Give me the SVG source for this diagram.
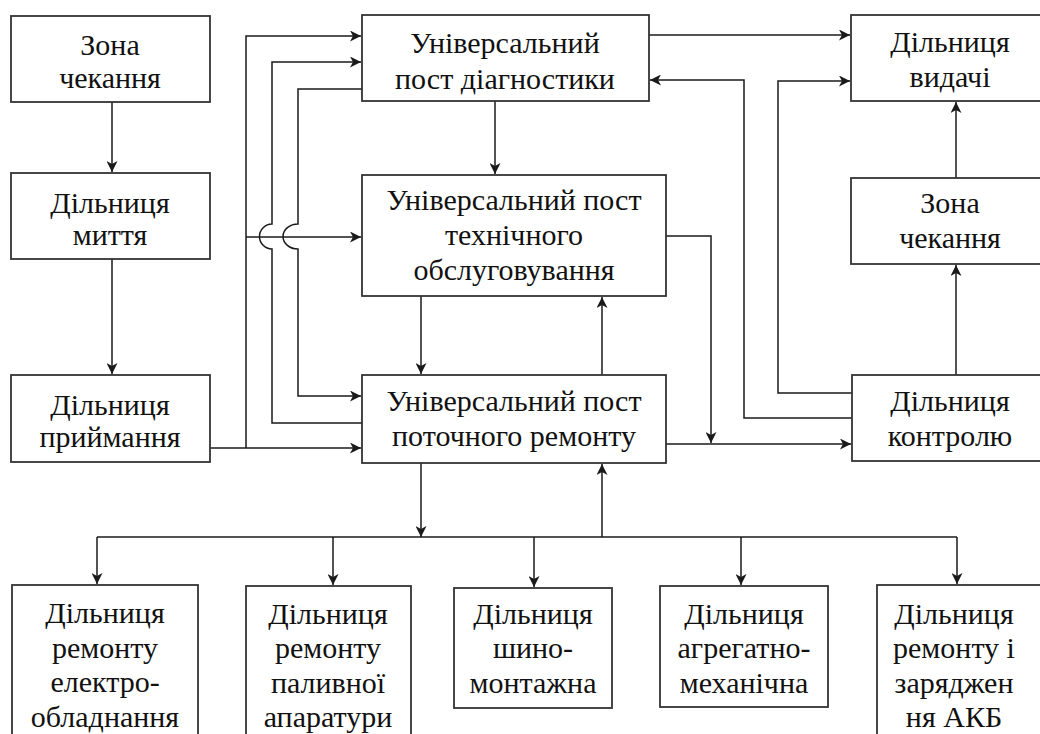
<svg xmlns="http://www.w3.org/2000/svg" width="1040" height="734" viewBox="0 0 1040 734">
<style>
.box{fill:#fff;stroke:#333;stroke-width:1.8}
.t{font-family:'Liberation Serif','Times New Roman',serif;font-size:30px;fill:#111;text-anchor:middle}
.c{fill:none;stroke:#1a1a1a;stroke-width:1.5}
.a{marker-end:url(#arr)}
</style>
<defs>
<marker id="arr" markerUnits="userSpaceOnUse" markerWidth="12" markerHeight="11" refX="11" refY="5.5" orient="auto">
<path d="M0,0 L11,5.5 L0,11 L3,5.5 z" fill="#1a1a1a"/>
</marker>
</defs>
<rect width="1040" height="734" fill="#fff"/>
<g id="connectors">
<path class="c a" d="M112,102 V172"/>
<path class="c a" d="M112,259 V374"/>
<path class="c a" d="M210,448 H361"/>
<path class="c a" d="M246,448 V36 H361"/>
<path class="c a" d="M246,237 H361"/>
<path class="c a" d="M362,423 H272 V249 A12.5,12.5 0 0 1 272,224 V62 H361"/>
<path class="c a" d="M362,89 H298 V224 A15,12.5 0 0 0 298,249 V396 H361"/>
<path class="c a" d="M495,101 V174"/>
<path class="c a" d="M421,296 V374"/>
<path class="c a" d="M602,375 V297"/>
<path class="c a" d="M649,35 H850"/>
<path class="c a" d="M852,418 H744 V80 H650"/>
<path class="c a" d="M852,393 H778 V81 H850"/>
<path class="c a" d="M666,236 H711 V443"/>
<path class="c a" d="M666,444 H851"/>
<path class="c a" d="M956,178 V102"/>
<path class="c a" d="M956,375 V265"/>
<path class="c a" d="M421,463 V537"/>
<path class="c" d="M97,537 H957"/>
<path class="c a" d="M97,537 V584"/>
<path class="c a" d="M333,537 V585"/>
<path class="c a" d="M534,537 V587"/>
<path class="c a" d="M741,537 V585"/>
<path class="c a" d="M957,537 V584"/>
<path class="c a" d="M602,537 V464"/>
</g>
<g id="zone-wait-1"><rect class="box" x="11" y="16" width="199" height="86"/><text class="t" x="110" y="55">Зона</text><text class="t" x="110" y="88">чекання</text></g>
<g id="wash"><rect class="box" x="11" y="173" width="199" height="86"/><text class="t" x="110" y="213">Дільниця</text><text class="t" x="110" y="245">миття</text></g>
<g id="accept"><rect class="box" x="11" y="375" width="199" height="87"/><text class="t" x="110" y="415">Дільниця</text><text class="t" x="110" y="447">приймання</text></g>
<g id="diag"><rect class="box" x="362" y="15" width="287" height="86"/><text class="t" x="505" y="53">Універсальний</text><text class="t" x="505" y="89">пост діагностики</text></g>
<g id="tech"><rect class="box" x="362" y="175" width="304" height="121"/><text class="t" x="514" y="210">Універсальний пост</text><text class="t" x="514" y="245">технічного</text><text class="t" x="514" y="280">обслуговування</text></g>
<g id="repair"><rect class="box" x="362" y="375" width="304" height="88"/><text class="t" x="514" y="411">Універсальний пост</text><text class="t" x="514" y="446">поточного ремонту</text></g>
<g id="issue"><rect class="box" x="851" y="15" width="200" height="86"/><text class="t" x="950" y="52">Дільниця</text><text class="t" x="950" y="87">видачі</text></g>
<g id="zone-wait-2"><rect class="box" x="851" y="178" width="200" height="86"/><text class="t" x="950" y="213">Зона</text><text class="t" x="950" y="248">чекання</text></g>
<g id="control"><rect class="box" x="852" y="375" width="200" height="86"/><text class="t" x="950" y="411">Дільниця</text><text class="t" x="950" y="446">контролю</text></g>
<g id="electro"><rect class="box" x="12" y="585" width="186" height="160"/><text class="t" x="105" y="623">Дільниця</text><text class="t" x="105" y="658">ремонту</text><text class="t" x="105" y="692">електро-</text><text class="t" x="105" y="727">обладнання</text></g>
<g id="fuel"><rect class="box" x="246" y="586" width="165" height="160"/><text class="t" x="328" y="624">Дільниця</text><text class="t" x="328" y="658">ремонту</text><text class="t" x="328" y="693">паливної</text><text class="t" x="328" y="727">апаратури</text></g>
<g id="tire"><rect class="box" x="454" y="588" width="158" height="120"/><text class="t" x="533" y="624">Дільниця</text><text class="t" x="533" y="658">шино-</text><text class="t" x="533" y="693">монтажна</text></g>
<g id="aggregate"><rect class="box" x="660" y="586" width="168" height="121"/><text class="t" x="744" y="624">Дільниця</text><text class="t" x="744" y="658">агрегатно-</text><text class="t" x="744" y="693">механічна</text></g>
<g id="battery"><rect class="box" x="877" y="585" width="180" height="160"/><text class="t" x="954" y="624">Дільниця</text><text class="t" x="954" y="658">ремонту і</text><text class="t" x="954" y="693">заряджен</text><text class="t" x="954" y="727">ня АКБ</text></g>
</svg>
